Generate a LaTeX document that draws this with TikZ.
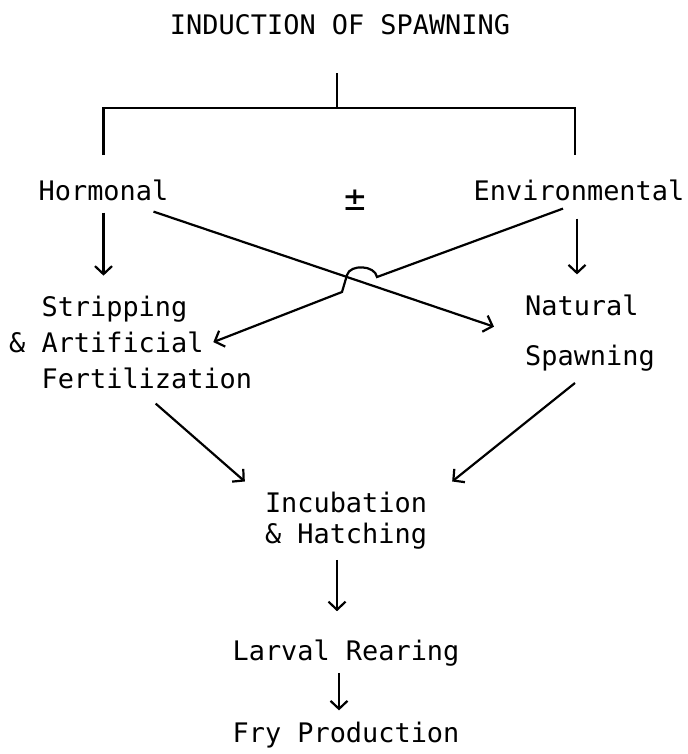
\documentclass[tikz,border=0pt]{standalone}
\usepackage{fontspec}
\setmainfont{DejaVu Sans Mono}
\usetikzlibrary{arrows.meta,calc}

\begin{document}
\begin{tikzpicture}[
  x=1bp,y=-1bp,
  txt/.style={inner sep=0pt,anchor=base,font=\fontsize{27}{36}\selectfont},
  link/.style={line width=2.2bp},
  arrow/.style={-{Straight Barb[length=8bp,width=17bp]},line width=2.2bp}
]
\useasboundingbox (0,0) rectangle (688,754);
% base of a multi-line node is its last line
\node[txt] (title) at (340,35) {INDUCTION OF SPAWNING};
\coordinate (split) at (337,108);
\node[txt] (hormonal) at (103.5,200) {Hormonal};
\node[txt,font=\fontsize{36}{36}\selectfont] (pm) at (355,210) {±};
\node[txt] (environmental) at (579,200) {Environmental};
\node[txt,anchor=base west,align=left] (stripping) at (9,388)
  {\phantom{\& }Stripping\\\& Artificial\\\phantom{\& }Fertilization};
\node[txt,anchor=base west,align=left,font=\fontsize{27}{50}\selectfont] (natural) at (525,365)
  {Natural\\Spawning};
\node[txt,align=center,font=\fontsize{27}{31}\selectfont] (incubation) at (346,543)
  {Incubation\\\& Hatching};
\node[txt] (larval) at (346,660) {Larval Rearing};
\node[txt] (fry) at (346,742) {Fry Production};
% bracket
\draw[link,shorten >=37bp] (split) -- (title.south -| split);
\draw[link,shorten <=24bp,shorten >=24bp] (hormonal.north) -- (hormonal.north |- split)
  -- ([xshift=-4bp]environmental.north |- split) -- ([xshift=-4bp]environmental.north);
% down arrows
\draw[arrow,shorten <=12bp,shorten >=20bp] (hormonal.south) -- (hormonal.south |- stripping.north);
\draw[arrow,shorten <=18bp,shorten >=20bp] ([xshift=-2bp]environmental.south) -- ([xshift=-2bp]environmental.south |- natural.north);
% crossing arrows
\draw[arrow] ([shift={(-15bp,-11bp)}]hormonal.south east) -- ([xshift=-31bp,yshift=6bp]natural.west);
\draw[arrow] ([shift={(-16bp,-8bp)}]environmental.south) -- (377,277)
  .. controls (375,265) and (350,264) .. (347,275) -- (342,292) -- ([xshift=-39bp]stripping.east);
\draw[arrow] ([shift={(25bp,-15bp)}]stripping.south) -- ([shift={(-20bp,10bp)}]incubation.north west);
\draw[arrow] ([shift={(-15bp,-12bp)}]natural.south) -- ([shift={(25bp,10bp)}]incubation.north east);
\draw[arrow,shorten <=11bp,shorten >=28bp] ([xshift=-9bp]incubation.south) -- ([xshift=-9bp]larval.north);
\draw[arrow,shorten <=7bp,shorten >=11bp] ([xshift=-7bp]larval.south) -- ([xshift=-7bp]fry.north);
\end{tikzpicture}
\end{document}
